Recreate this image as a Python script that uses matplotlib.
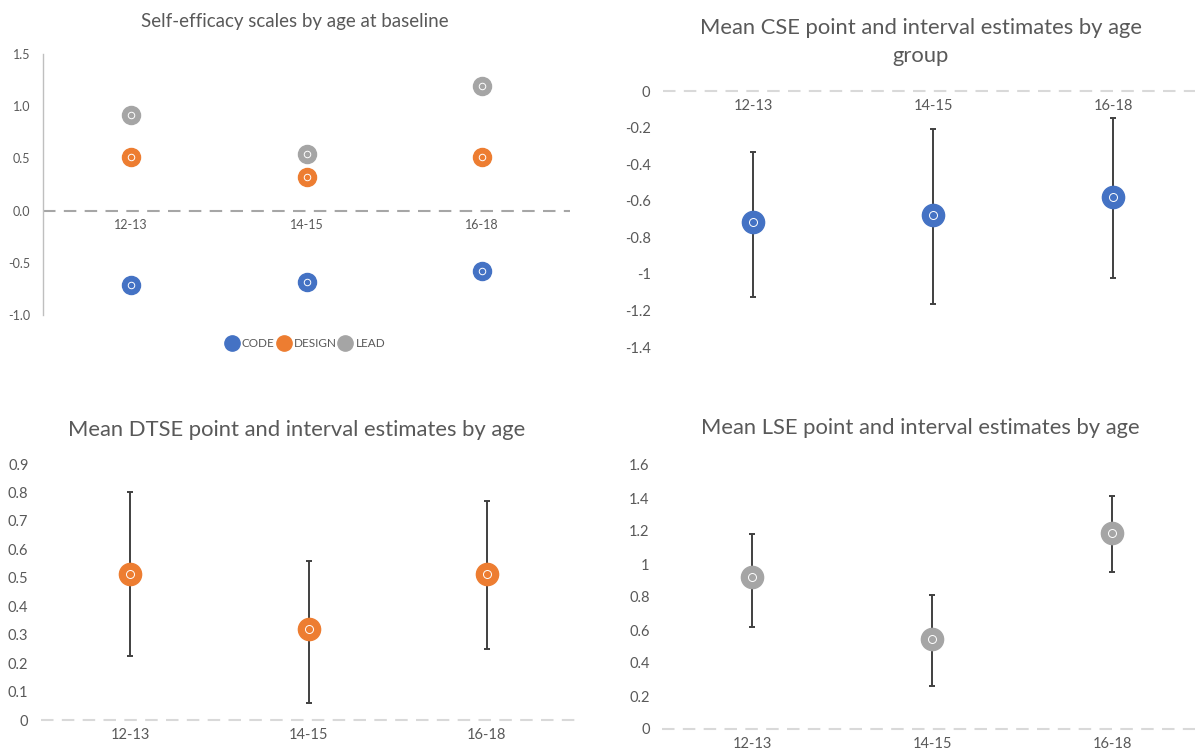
import matplotlib
matplotlib.use("Agg")
import matplotlib.pyplot as plt

plt.rcParams['font.family'] = ['Lato', 'DejaVu Sans']

ages = ["12-13", "14-15", "16-18"]
code_mean = [-0.715, -0.68, -0.58]
code_lo = [-1.125, -1.165, -1.02]
code_hi = [-0.335, -0.21, -0.15]
design_mean = [0.515, 0.32, 0.515]
design_lo = [0.225, 0.06, 0.25]
design_hi = [0.80, 0.56, 0.77]
lead_mean = [0.92, 0.545, 1.19]
lead_lo = [0.62, 0.26, 0.95]
lead_hi = [1.18, 0.815, 1.415]

BLUE = "#4472C4"
ORANGE = "#ED7D31"
GREY = "#A5A5A5"
TXT = "#595959"
W, H = 1195, 756

fig = plt.figure(figsize=(W / 100, H / 100), dpi=100)


def box(left, top, right, bottom):
    # pixel box -> figure fraction
    return [left / W, 1 - bottom / H, (right - left) / W, (bottom - top) / H]


def setup(ax, ylim, ticks, labels, zero_color, pad, lsize):
    x = [0.5, 1.5, 2.5]
    ax.set_xlim(0, 3)
    ax.set_ylim(*ylim)
    ax.set_yticks(ticks)
    ax.set_yticklabels(labels)
    ax.set_xticks(x)
    ax.set_xticklabels(ages)
    for s in ["top", "right", "left", "bottom"]:
        ax.spines[s].set_visible(False)
    ax.spines["bottom"].set_position(("data", 0))
    ax.tick_params(length=0, colors=TXT, labelsize=lsize)
    ax.tick_params(axis="y", pad=pad)
    ax.tick_params(axis="x", pad=6)
    ax.axhline(0, color=zero_color, lw=1.5, ls=(0, (6, 4)), clip_on=False, zorder=1)
    return x


def dot(ax, x, y, color, ms):
    ax.plot(x, y, "o", color=color, ms=ms, mec=color, ls="none", zorder=4, clip_on=False)
    ax.plot(x, y, "o", mfc="none", mec="white", ms=ms * 0.36, mew=0.7, ls="none", zorder=5, clip_on=False)


# panel 1
ax1 = fig.add_axes(box(43, 54, 570, 315))
x = setup(ax1, (-1.0, 1.5), [-1.0, -0.5, 0.0, 0.5, 1.0, 1.5],
          ["-1.0", "-0.5", "0.0", "0.5", "1.0", "1.5"], "#A6A6A6", 9, 9)
ax1.spines["left"].set_visible(True)
ax1.spines["left"].set_color("#BFBFBF")
ax1.spines["left"].set_linewidth(1)
for vals, c, name in [(code_mean, BLUE, "CODE"), (design_mean, ORANGE, "DESIGN"), (lead_mean, GREY, "LEAD")]:
    dot(ax1, x, vals, c, 13)
    ax1.plot([], [], "o", color=c, ms=11, label=name)
ax1.legend(loc="center", bbox_to_anchor=(0.5, -0.11), ncol=3, frameon=False,
           handlelength=0.7, handletextpad=0.5, columnspacing=0.4, fontsize=8.5,
           labelcolor=TXT)
fig.text(295 / W, 1 - 22 / H, "Self-efficacy scales by age at baseline", ha="center", va="center",
         fontsize=13.5, color=TXT)


def ci_panel(rect, mean, lo, hi, color, ylim, ticks, labels, title, title_y):
    ax = fig.add_axes(rect)
    x = setup(ax, ylim, ticks, labels, "#D9D9D9", 9, 10.5)
    err = [[m - l for m, l in zip(mean, lo)], [h - m for h, m in zip(hi, mean)]]
    ax.errorbar(x, mean, yerr=err, fmt="none", ecolor="#404040", elinewidth=1.4,
                capsize=2.2, capthick=1.4, zorder=3, clip_on=False)
    dot(ax, x, mean, color, 16)
    fig.text(rect[0] + rect[2] / 2 - 0.01, title_y, title, ha="center", va="center",
             fontsize=15.8, color=TXT, linespacing=1.45)
    return ax


ax2 = ci_panel(box(663, 91, 1203, 347), code_mean, code_lo, code_hi, BLUE, (-1.4, 0),
               [-1.4, -1.2, -1.0, -0.8, -0.6, -0.4, -0.2, 0],
               ["-1.4", "-1.2", "-1", "-0.8", "-0.6", "-0.4", "-0.2", "0"],
               "Mean CSE point and interval estimates by age\ngroup", 1 - 42 / H)

ax3 = ci_panel(box(41, 464, 576, 720), design_mean, design_lo, design_hi, ORANGE, (0, 0.9),
               [0, 0.1, 0.2, 0.3, 0.4, 0.5, 0.6, 0.7, 0.8, 0.9],
               ["0", "0.1", "0.2", "0.3", "0.4", "0.5", "0.6", "0.7", "0.8", "0.9"],
               "Mean DTSE point and interval estimates by age", 1 - 430 / H)

ax4 = ci_panel(box(662, 465, 1202, 729), lead_mean, lead_lo, lead_hi, GREY, (0, 1.6),
               [0, 0.2, 0.4, 0.6, 0.8, 1.0, 1.2, 1.4, 1.6],
               ["0", "0.2", "0.4", "0.6", "0.8", "1", "1.2", "1.4", "1.6"],
               "Mean LSE point and interval estimates by age", 1 - 428 / H)

fig.savefig("out.png", dpi=100)
